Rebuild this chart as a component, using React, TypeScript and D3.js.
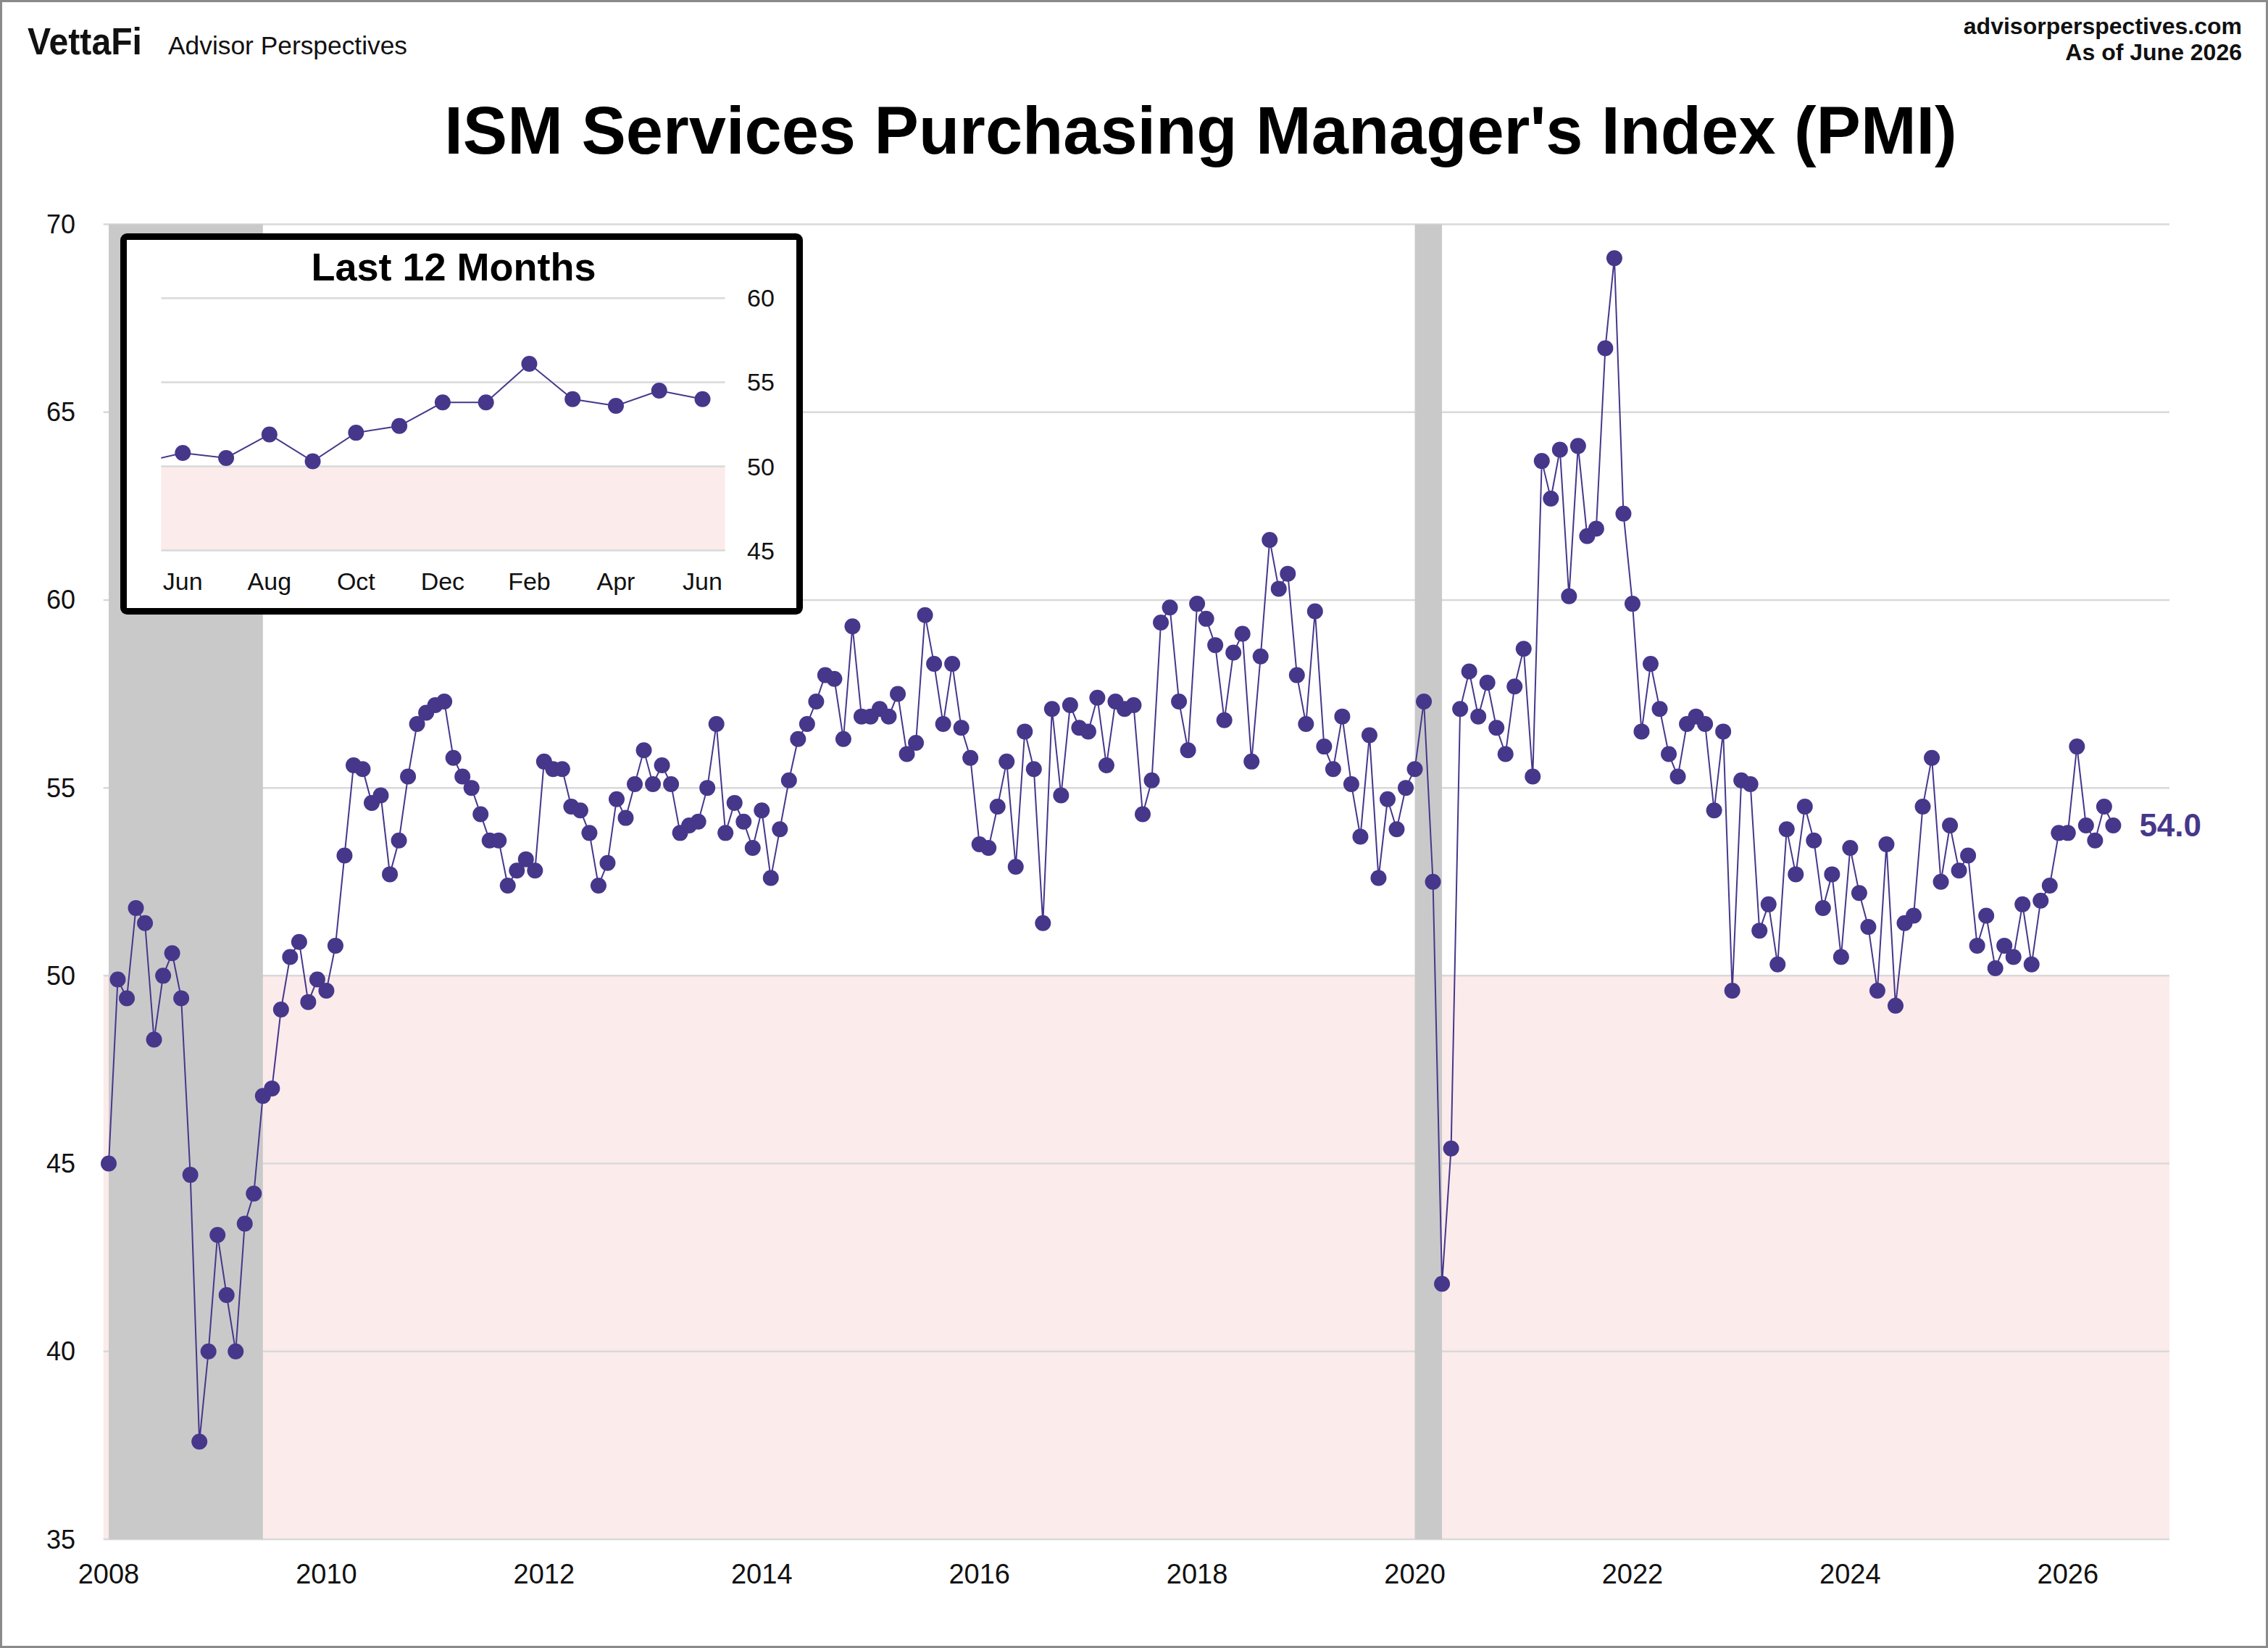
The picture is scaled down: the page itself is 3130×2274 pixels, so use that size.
import React from "react";
import * as d3 from "d3";

// ISM Services PMI, monthly, January 2008 through June 2026
const pmi2008 = [45.0, 49.9, 49.4, 51.8, 51.4, 48.3, 50.0, 50.6, 49.4, 44.7, 37.6, 40.0];
const pmi2009 = [43.1, 41.5, 40.0, 43.4, 44.2, 46.8, 47.0, 49.1, 50.5, 50.9, 49.3, 49.9];
const pmi2010 = [49.6, 50.8, 53.2, 55.6, 55.5, 54.6, 54.8, 52.7, 53.6, 55.3, 56.7, 57.0];
const pmi2011 = [57.2, 57.3, 55.8, 55.3, 55.0, 54.3, 53.6, 53.6, 52.4, 52.8, 53.1, 52.8];
const pmi2012 = [55.7, 55.5, 55.5, 54.5, 54.4, 53.8, 52.4, 53.0, 54.7, 54.2, 55.1, 56.0];
const pmi2013 = [55.1, 55.6, 55.1, 53.8, 54.0, 54.1, 55.0, 56.7, 53.8, 54.6, 54.1, 53.4];
const pmi2014 = [54.4, 52.6, 53.9, 55.2, 56.3, 56.7, 57.3, 58.0, 57.9, 56.3, 59.3, 56.9];
const pmi2015 = [56.9, 57.1, 56.9, 57.5, 55.9, 56.2, 59.6, 58.3, 56.7, 58.3, 56.6, 55.8];
const pmi2016 = [53.5, 53.4, 54.5, 55.7, 52.9, 56.5, 55.5, 51.4, 57.1, 54.8, 57.2, 56.6];
const pmi2017 = [56.5, 57.4, 55.6, 57.3, 57.1, 57.2, 54.3, 55.2, 59.4, 59.8, 57.3, 56.0];
const pmi2018 = [59.9, 59.5, 58.8, 56.8, 58.6, 59.1, 55.7, 58.5, 61.6, 60.3, 60.7, 58.0];
const pmi2019 = [56.7, 59.7, 56.1, 55.5, 56.9, 55.1, 53.7, 56.4, 52.6, 54.7, 53.9, 55.0];
const pmi2020 = [55.5, 57.3, 52.5, 41.8, 45.4, 57.1, 58.1, 56.9, 57.8, 56.6, 55.9, 57.7];
const pmi2021 = [58.7, 55.3, 63.7, 62.7, 64.0, 60.1, 64.1, 61.7, 61.9, 66.7, 69.1, 62.3];
const pmi2022 = [59.9, 56.5, 58.3, 57.1, 55.9, 55.3, 56.7, 56.9, 56.7, 54.4, 56.5, 49.6];
const pmi2023 = [55.2, 55.1, 51.2, 51.9, 50.3, 53.9, 52.7, 54.5, 53.6, 51.8, 52.7, 50.5];
const pmi2024 = [53.4, 52.2, 51.3, 49.6, 53.5, 49.2, 51.4, 51.6, 54.5, 55.8, 52.5, 54.0];
const pmi2025 = [52.8, 53.2, 50.8, 51.6, 50.2, 50.8, 50.5, 51.9, 50.3, 52.0, 52.4, 53.8];
const pmi2026 = [53.8, 56.1, 54.0, 53.6, 54.5, 54.0];

const START_YEAR = 2008;
const pmiSeries = [
  pmi2008, pmi2009, pmi2010, pmi2011, pmi2012, pmi2013, pmi2014, pmi2015, pmi2016, pmi2017,
  pmi2018, pmi2019, pmi2020, pmi2021, pmi2022, pmi2023, pmi2024, pmi2025, pmi2026,
].flat();

// Recession shading (inclusive month ranges)
const recessions = [
  { start: "2008-01", end: "2009-06" },
  { start: "2020-01", end: "2020-04" },
];

const yTicks = [35, 40, 45, 50, 55, 60, 65, 70];
const yearTicks = [2008, 2010, 2012, 2014, 2016, 2018, 2020, 2022, 2024, 2026];

// Inset: trailing 12 months
const insetMonthNames = ["Jun", "Jul", "Aug", "Sep", "Oct", "Nov", "Dec", "Jan", "Feb", "Mar", "Apr", "May", "Jun"];
const insetYTicks = [45, 50, 55, 60];

const W = 3130;
const H = 2274;
const FONT = "'Liberation Sans', Arial, Helvetica, sans-serif";
const PURPLE = "#46378B";
const PINK = "#FCEBEB";
const GRID = "#D9D9D9";
const SHADE = "#C9C9C9";

const monthIndex = (s: string) => {
  const [y, m] = s.split("-").map(Number);
  return (y - START_YEAR) * 12 + (m - 1);
};

export default function App() {
  const plot = { left: 142.7, right: 2994, top: 309.5, bottom: 2124 };
  const x = d3.scaleLinear().domain([-0.583, 227.2]).range([plot.left, plot.right]);
  const y = d3.scaleLinear().domain([35, 70]).range([plot.bottom, plot.top]);

  const points = pmiSeries.map((v, i) => ({ i, v }));
  const line = d3
    .line<{ i: number; v: number }>()
    .x((d) => x(d.i))
    .y((d) => y(d.v));

  const last = points[points.length - 1];

  // Inset geometry
  const inset = { left: 222.4, right: 1000.6, top: 411.4, bottom: 759.6 };
  const ix = d3.scaleLinear().domain([-0.5, 12.52]).range([inset.left, inset.right]);
  const iy = d3.scaleLinear().domain([45, 60]).range([inset.bottom, inset.top]);
  const insetStart = pmiSeries.length - 13;
  const insetPts = pmiSeries
    .slice(insetStart - 1)
    .map((v, k) => ({ i: k - 1, v }));
  const insetLine = d3
    .line<{ i: number; v: number }>()
    .x((d) => ix(d.i))
    .y((d) => iy(d.v));

  return (
    <>
      <style>{"html,body{margin:0;padding:0;background:#fff}"}</style>
      <svg width={W} height={H} style={{ display: "block" }} fontFamily={FONT}>
        <rect x={0} y={0} width={W} height={H} fill="#fff" />
        <rect x={1.5} y={1.5} width={W - 3} height={H - 3} fill="none" stroke="#8a8a8a" strokeWidth={3} />

        {/* Header */}
        <text x={38} y={75} fontSize={52} fontWeight={700} textLength={158} lengthAdjust="spacingAndGlyphs" fill="#111">
          VettaFi
        </text>
        <text x={232} y={75} fontSize={35} textLength={330} lengthAdjust="spacingAndGlyphs" fill="#111">
          Advisor Perspectives
        </text>
        <text x={3094} y={47} fontSize={32} fontWeight={700} textAnchor="end" fill="#111">
          advisorperspectives.com
        </text>
        <text x={3094} y={83} fontSize={32} fontWeight={700} textAnchor="end" fill="#111">
          As of June 2026
        </text>
        <text x={1657} y={212} fontSize={92} fontWeight={700} textAnchor="middle" fill="#000">
          ISM Services Purchasing Manager's Index (PMI)
        </text>

        {/* Contraction zone */}
        <rect x={plot.left} y={y(50)} width={plot.right - plot.left} height={y(35) - y(50)} fill={PINK} />

        {/* Gridlines */}
        {yTicks.map((t) => (
          <line key={t} x1={plot.left} x2={plot.right} y1={y(t)} y2={y(t)} stroke={GRID} strokeWidth={2.5} />
        ))}

        {/* Recessions */}
        {recessions.map((r) => (
          <rect
            key={r.start}
            x={x(monthIndex(r.start))}
            y={plot.top}
            width={x(monthIndex(r.end)) - x(monthIndex(r.start))}
            height={plot.bottom - plot.top}
            fill={SHADE}
          />
        ))}

        {/* Y axis labels */}
        {yTicks.map((t) => (
          <text key={t} x={104} y={y(t)} fontSize={36} textAnchor="end" dominantBaseline="central" fill="#111">
            {t}
          </text>
        ))}

        {/* X axis labels */}
        {yearTicks.map((yr) => (
          <text key={yr} x={x((yr - START_YEAR) * 12)} y={2172} fontSize={38} textAnchor="middle" dominantBaseline="central" fill="#111">
            {yr}
          </text>
        ))}

        {/* Series */}
        <path d={line(points) || ""} fill="none" stroke={PURPLE} strokeWidth={2} />
        {points.map((p) => (
          <circle key={p.i} cx={x(p.i)} cy={y(p.v)} r={11} fill={PURPLE} />
        ))}
        <text x={x(last.i) + 36} y={y(last.v)} fontSize={44} fontWeight={700} dominantBaseline="central" fill={PURPLE}>
          {last.v.toFixed(1)}
        </text>

        {/* Inset: last 12 months */}
        <defs>
          <clipPath id="inset-clip">
            <rect x={inset.left} y={inset.top - 30} width={inset.right - inset.left} height={inset.bottom - inset.top + 60} />
          </clipPath>
        </defs>
        <rect x={170.5} y={326.5} width={933} height={517} rx={5} fill="#fff" stroke="#000" strokeWidth={9} />
        <text x={626} y={387} fontSize={54} fontWeight={700} textAnchor="middle" fill="#000">
          Last 12 Months
        </text>
        <rect x={inset.left} y={iy(50)} width={inset.right - inset.left} height={iy(45) - iy(50)} fill={PINK} />
        {insetYTicks.map((t) => (
          <g key={t}>
            <line x1={inset.left} x2={inset.right} y1={iy(t)} y2={iy(t)} stroke={GRID} strokeWidth={2.5} />
            <text x={1031} y={iy(t)} fontSize={34} dominantBaseline="central" fill="#111">
              {t}
            </text>
          </g>
        ))}
        {insetMonthNames.map((m, k) =>
          k % 2 === 0 ? (
            <text key={k} x={ix(k)} y={814} fontSize={34} textAnchor="middle" fill="#111">
              {m}
            </text>
          ) : null
        )}
        <g clipPath="url(#inset-clip)">
          <path d={insetLine(insetPts) || ""} fill="none" stroke={PURPLE} strokeWidth={2} />
          {insetPts
            .filter((d) => d.i >= 0)
            .map((d) => (
              <circle key={d.i} cx={ix(d.i)} cy={iy(d.v)} r={11} fill={PURPLE} />
            ))}
        </g>
      </svg>
    </>
  );
}
